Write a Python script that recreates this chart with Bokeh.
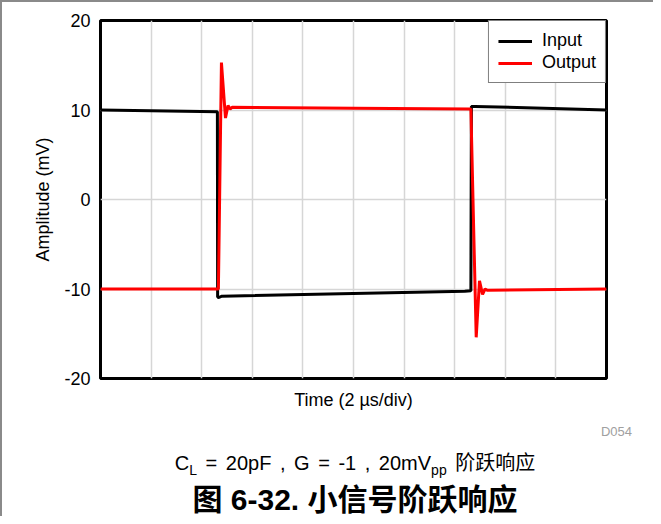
from bokeh.plotting import figure
from bokeh.models import Legend, LegendItem, Range1d, FixedTicker, Div
from bokeh.layouts import column
from bokeh.embed import file_html
from bokeh.resources import INLINE

# ---- data (time in µs, amplitude in mV) ----
input_t = [0.0, 4.62, 4.63, 4.68, 4.80, 14.40, 14.64, 14.66, 14.80, 20.0]
input_v = [10.0, 9.8, -10.9, -10.95, -10.8, -10.25, -10.2, 10.4, 10.4, 10.0]

output_t = [0.0, 4.66, 4.78, 4.94, 5.04, 5.12, 5.20, 10.0, 14.60,
            14.64, 14.85, 14.98, 15.10, 15.20, 15.30, 20.0]
output_v = [-10.0, -10.0, 15.3, 9.1, 10.5, 10.1, 10.3, 10.2, 10.1,
            10.1, -15.4, -9.1, -10.6, -10.0, -10.15, -10.0]

y_ticks = [-20, -10, 0, 10, 20]
y_tick_labels = {-20: "-20", -10: "-10", 0: "0", 10: "10", 20: "20"}
x_grid = [2, 4, 6, 8, 10, 12, 14, 16, 18]

series_names = ["Input", "Output"]
x_title = "Time (2 µs/div)"
y_title = "Amplitude (mV)"
figure_id = "D054"
caption_html = "C<span class='sb'>L</span> = 20pF , G = -1 , 20mV<span class='sb'>pp</span> 阶跃响应"
title_text = "图 6-32. 小信号阶跃响应"

FONT = "Liberation Sans"

p = figure(width=653, height=420, output_backend="svg", toolbar_location=None,
           x_range=Range1d(0, 20), y_range=Range1d(-20, 20),
           min_border_left=100, min_border_right=47, min_border_top=20,
           min_border_bottom=42)
p.background_fill_color = "white"
p.border_fill_color = "white"
p.outline_line_color = "black"
p.outline_line_width = 3

# axes
p.yaxis.ticker = FixedTicker(ticks=y_ticks)
p.yaxis.major_label_overrides = y_tick_labels
p.yaxis.major_tick_line_color = None
p.yaxis.minor_tick_line_color = None
p.yaxis.axis_line_color = None
p.yaxis.major_label_text_font = FONT
p.yaxis.major_label_text_font_size = "18px"
p.yaxis.major_label_text_color = "black"
p.yaxis.major_label_standoff = 4
p.yaxis.axis_label = y_title
p.yaxis.axis_label_text_font = FONT
p.yaxis.axis_label_text_font_style = "normal"
p.yaxis.axis_label_text_font_size = "18px"
p.yaxis.axis_label_text_color = "black"
p.yaxis.axis_label_standoff = 8

p.xaxis.ticker = FixedTicker(ticks=[])
p.xaxis.major_tick_line_color = None
p.xaxis.minor_tick_line_color = None
p.xaxis.axis_line_color = None
p.xaxis.major_label_standoff = 0
p.xaxis.axis_label = x_title
p.xaxis.axis_label_text_font = FONT
p.xaxis.axis_label_text_font_style = "normal"
p.xaxis.axis_label_text_font_size = "18px"
p.xaxis.axis_label_text_color = "black"
p.xaxis.axis_label_standoff = 11

p.xgrid.ticker = FixedTicker(ticks=x_grid)
p.ygrid.ticker = FixedTicker(ticks=[-10, 0, 10])
p.xgrid.grid_line_color = "#d6d6d6"
p.ygrid.grid_line_color = "#d6d6d6"
p.xgrid.grid_line_width = 1.5
p.ygrid.grid_line_width = 1.5

r_in = p.line(input_t, input_v, line_color="black", line_width=3)
r_out = p.line(output_t, output_v, line_color="#ff0000", line_width=3)

legend = Legend(items=[LegendItem(label=series_names[0], renderers=[r_in]),
                       LegendItem(label=series_names[1], renderers=[r_out])],
                location="top_right", margin=0, padding=9, spacing=1,
                glyph_width=34, label_standoff=10, label_height=20,
                label_text_font=FONT, label_text_font_size="18px",
                label_text_color="black",
                border_line_color="black", border_line_width=1.5,
                background_fill_color="white", background_fill_alpha=1)
p.add_layout(legend)

html = f"""
<style>.sb {{ font-size: 14px; position: relative; top: 5px; }}</style>
<div style="position:absolute;left:0;top:-420px;width:2px;height:516px;background:#8a8a8a;"></div>
<div style="position:absolute;left:0;top:-420px;width:653px;height:2px;background:#8a8a8a;"></div>
<div style="position:relative;width:653px;height:96px;overflow:hidden;
            font-family:'Liberation Sans','Noto Sans CJK SC',sans-serif;color:black;">
  <div style="position:absolute;right:21px;top:5px;font-size:13px;line-height:1;color:#a0a0a0;">{figure_id}</div>
  <div style="position:absolute;left:55px;width:600px;top:33px;text-align:center;
              font-size:20px;line-height:1;word-spacing:3px;white-space:nowrap;">{caption_html}</div>
  <div style="position:absolute;left:55px;width:600px;top:65px;text-align:center;
              font-size:30px;line-height:1;font-weight:bold;white-space:nowrap;">{title_text}</div>
</div>
"""
caption = Div(text=html, width=653, height=96, margin=0)

layout = column(p, caption, spacing=0)
open("out.html", "w").write(file_html(layout, INLINE))
